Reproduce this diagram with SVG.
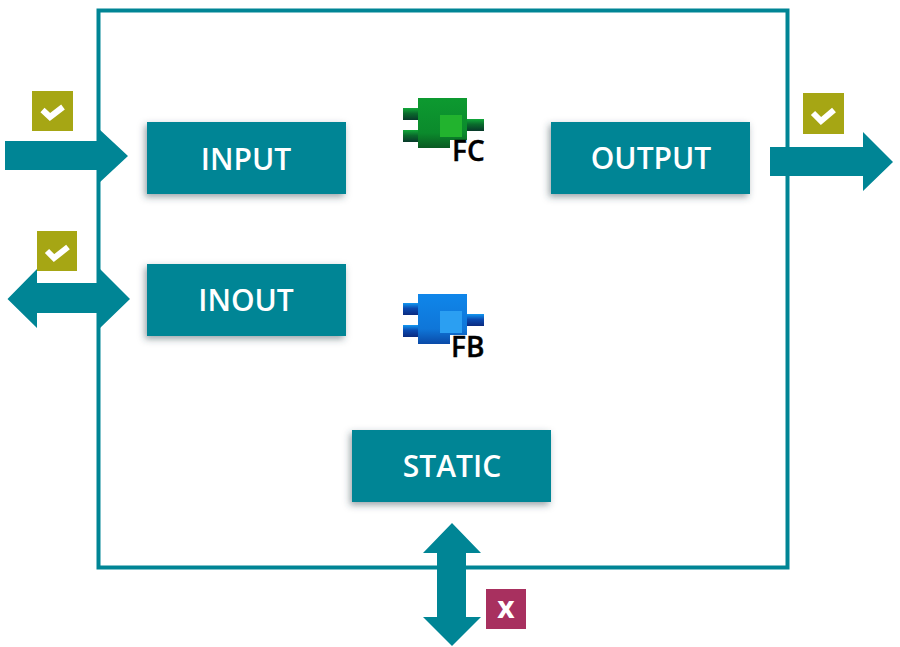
<svg xmlns="http://www.w3.org/2000/svg" width="900" height="647" viewBox="0 0 900 647">
  <style>
    .teal { fill: #008595; }
    .box { fill: #008595; filter: url(#shadow); }
    .label { font-family: "Open Sans", "Liberation Sans", sans-serif; font-weight: 600; font-size: 30px; fill: #ffffff; text-anchor: middle; }
    .badge-ok { fill: #a6a614; }
    .badge-no { fill: #a8305f; }
    .check { fill: none; stroke: #ffffff; stroke-width: 6; }
    .icon-text { font-family: "Open Sans", "Liberation Sans", sans-serif; font-weight: 600; font-size: 28px; fill: #000000; stroke: #000000; stroke-width: 0.4; }
    .mark { font-family: "Open Sans", "Liberation Sans", sans-serif; font-weight: 700; font-size: 30px; fill: #ffffff; text-anchor: middle; }
  </style>
  <defs>
    <filter id="shadow" x="-10%" y="-15%" width="120%" height="135%">
      <feDropShadow dx="-2" dy="3" stdDeviation="3.500" flood-color="#33454d" flood-opacity="0.5"/>
    </filter>
    <linearGradient id="gBody" x1="0" y1="0" x2="0" y2="1">
      <stop offset="0" stop-color="#0d9a30"/>
      <stop offset="0.7" stop-color="#0b8a2c"/>
      <stop offset="1" stop-color="#0a5a22"/>
    </linearGradient>
    <linearGradient id="gPin" x1="0" y1="0" x2="0" y2="1">
      <stop offset="0" stop-color="#12a83a"/>
      <stop offset="0.45" stop-color="#0a6a2c"/>
      <stop offset="1" stop-color="#08392a"/>
    </linearGradient>
    <linearGradient id="bBody" x1="0" y1="0" x2="0" y2="1">
      <stop offset="0" stop-color="#0f86ea"/>
      <stop offset="0.7" stop-color="#0f76d8"/>
      <stop offset="1" stop-color="#0a4aa8"/>
    </linearGradient>
    <linearGradient id="bPin" x1="0" y1="0" x2="0" y2="1">
      <stop offset="0" stop-color="#1298f2"/>
      <stop offset="0.45" stop-color="#0b4ab0"/>
      <stop offset="1" stop-color="#0a2a80"/>
    </linearGradient>
  </defs>
  <rect width="900" height="647" fill="#ffffff"/>

  <g id="frame">
    <rect x="98.500" y="10.500" width="689" height="557" fill="none" stroke="#008595" stroke-width="4"/>
  </g>

  <g id="connectors">
    <polygon class="teal" points="5,141 99,141 99,129 128,156 99,183 99,170 5,170"/>
    <polygon class="teal" points="7.500,299 37,269 37,283 100,283 100,269 130,299 100,328 100,313 37,313 37,328"/>
    <polygon class="teal" points="770,147 863,147 863,132 893,162 863,191 863,176 770,176"/>
    <polygon class="teal" points="452,523 481,553 466,553 466,617 481,617 452,646 423,617 437,617 437,553 423,553"/>
  </g>

  <g id="node-input">
    <rect class="box" x="147" y="122" width="199" height="72"/>
    <text class="label" x="246" y="170">INPUT</text>
  </g>
  <g id="node-output">
    <rect class="box" x="551" y="122" width="199" height="72"/>
    <text class="label" x="651" y="169">OUTPUT</text>
  </g>
  <g id="node-inout">
    <rect class="box" x="147" y="264" width="199" height="72"/>
    <text class="label" x="246" y="311">INOUT</text>
  </g>
  <g id="node-static">
    <rect class="box" x="352" y="430" width="199" height="72"/>
    <text class="label" x="452" y="477">STATIC</text>
  </g>

  <g id="icon-fc">
    <rect x="403" y="108" width="16" height="12" fill="url(#gPin)"/>
    <rect x="403" y="130" width="16" height="12" fill="url(#gPin)"/>
    <rect x="466" y="119" width="18" height="12" fill="url(#gPin)"/>
    <rect x="418" y="98" width="49" height="50" fill="url(#gBody)"/>
    <rect x="440" y="115" width="22" height="22" fill="#22b32e"/>
    <rect x="450" y="140" width="38" height="24" fill="#ffffff"/>
    <text class="icon-text" x="452" y="161">FC</text>
  </g>
  <g id="icon-fb">
    <rect x="403" y="303" width="16" height="12" fill="url(#bPin)"/>
    <rect x="403" y="325" width="16" height="12" fill="url(#bPin)"/>
    <rect x="466" y="314" width="18" height="12" fill="url(#bPin)"/>
    <rect x="418" y="294" width="49" height="50" fill="url(#bBody)"/>
    <rect x="440" y="311" width="22" height="22" fill="#2b9ff2"/>
    <rect x="450" y="335" width="38" height="25" fill="#ffffff"/>
    <text class="icon-text" x="451" y="357">FB</text>
  </g>

  <g id="badge-input">
    <rect class="badge-ok" x="32" y="91" width="41" height="40"/>
    <path class="check" d="M42.500,110 L50,117 L63,107"/>
  </g>
  <g id="badge-inout">
    <rect class="badge-ok" x="37" y="231" width="40" height="40"/>
    <path class="check" d="M47,251 L54,258 L68,247"/>
  </g>
  <g id="badge-output">
    <rect class="badge-ok" x="803" y="93" width="41" height="41"/>
    <path class="check" d="M813,113 L821,121 L834,110"/>
  </g>
  <g id="badge-static">
    <rect class="badge-no" x="486" y="589" width="40" height="40"/>
    <text class="mark" x="506" y="618">x</text>
  </g>
</svg>
